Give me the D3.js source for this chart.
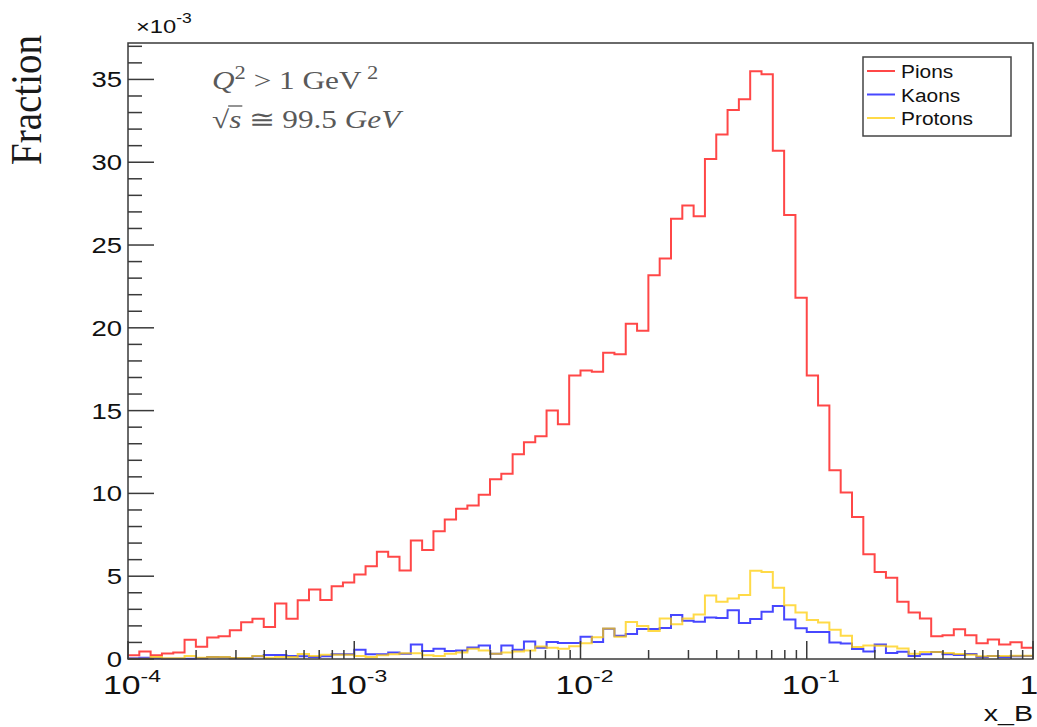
<!DOCTYPE html>
<html>
<head>
    <script src="https://cdn.jsdelivr.net/npm/d3@7"></script>
    <style>
        html, body {
            padding: 0;
            margin: 0;
            background: white;
        }
    </style>
</head>
<body>
<script>
    var width = 1037, height = 727;
    var plot = {left: 128, right: 1033, top: 43, bottom: 659};

    // x_B binning: 80 log-spaced bins between 1e-4 and 1
    var nBins = 80;
    var xMin = 1e-4, xMax = 1;
    var binEdges = d3.range(nBins + 1).map(function (i) {
        return xMin * Math.pow(xMax / xMin, i / nBins);
    });

    // bin contents, in units of 1e-3
    var pions = [0.23, 0.45, 0.23, 0.33, 0.39, 1.16, 0.74, 1.30, 1.38, 1.74,
        2.22, 2.43, 1.94, 3.35, 2.43, 3.55, 4.20, 3.57, 4.40, 4.62,
        5.10, 5.60, 6.47, 6.17, 5.34, 7.16, 6.59, 7.72, 8.42, 9.07,
        9.27, 9.92, 10.86, 11.18, 12.37, 13.09, 13.45, 15.00, 14.18, 17.12,
        17.42, 17.34, 18.49, 18.41, 20.24, 19.82, 23.18, 24.19, 26.58, 27.39,
        26.74, 30.20, 31.67, 33.16, 33.80, 35.50, 35.31, 30.70, 26.82, 21.81,
        17.12, 15.31, 11.40, 10.05, 8.58, 6.33, 5.26, 4.90, 3.45, 2.81,
        2.45, 1.38, 1.44, 1.80, 1.44, 0.95, 1.18, 0.88, 1.01, 0.68];
    var kaons = [0.05, 0.08, 0.05, 0.02, 0.02, 0.02, 0.05, 0.12, 0.10, 0.05,
        0.05, 0.16, 0.24, 0.24, 0.18, 0.16, 0.12, 0.16, 0.28, 0.28,
        0.56, 0.28, 0.28, 0.40, 0.32, 0.88, 0.48, 0.62, 0.48, 0.52,
        0.70, 0.82, 0.32, 0.82, 0.56, 1.05, 0.68, 1.03, 0.97, 0.97,
        1.35, 1.03, 1.83, 1.41, 1.51, 1.81, 1.81, 1.87, 2.66, 2.31,
        2.25, 2.51, 2.47, 2.94, 2.17, 2.41, 2.86, 3.20, 2.38, 1.85,
        1.63, 1.63, 1.00, 0.93, 0.60, 0.46, 0.87, 0.36, 0.44, 0.18,
        0.28, 0.42, 0.28, 0.24, 0.30, 0.12, 0.18, 0.12, 0.16, 0.18];
    var protons = [0.02, 0.02, 0.12, 0.05, 0.05, 0.18, 0.08, 0.12, 0.12, 0.06,
        0.06, 0.18, 0.08, 0.12, 0.12, 0.30, 0.18, 0.26, 0.26, 0.26,
        0.18, 0.12, 0.22, 0.28, 0.34, 0.34, 0.22, 0.18, 0.32, 0.40,
        0.62, 0.52, 0.32, 0.40, 0.46, 0.52, 0.76, 0.68, 0.62, 0.77,
        0.95, 1.32, 1.84, 1.34, 2.23, 2.00, 1.69, 2.45, 2.10, 2.44,
        2.69, 3.83, 3.45, 3.65, 3.87, 5.33, 5.25, 4.31, 3.24, 2.81,
        2.35, 2.20, 1.77, 1.41, 0.72, 0.82, 0.80, 0.76, 0.64, 0.32,
        0.42, 0.42, 0.36, 0.30, 0.26, 0.16, 0.18, 0.18, 0.20, 0.20];

    var seriesNames = ["Pions", "Kaons", "Protons"];
    var seriesColors = ["#ff0000", "#0000ff", "#ffcc00"];
    var seriesValues = [pions, kaons, protons];

    var yMax = 37.2;
    var yMajorTicks = [0, 5, 10, 15, 20, 25, 30, 35];
    var xMajorTicks = [1e-4, 1e-3, 1e-2, 1e-1, 1];
    var xTickExponents = ["-4", "-3", "-2", "-1", ""];

    var svg = d3.select('body').append('svg')
        .attr('width', width)
        .attr('height', height)
        .style('background-color', 'white');

    var x = d3.scaleLog().domain([xMin, xMax]).range([plot.left, plot.right]);
    var y = d3.scaleLinear().domain([0, yMax]).range([plot.bottom, plot.top]);

    var axisColor = "#3a3a3a";
    var sansFont = "'Liberation Sans', Arial, sans-serif";
    var serifFont = "'Liberation Serif', 'DejaVu Serif', serif";

    // text that is stretched horizontally like the original canvas
    function stretchedText(parent, px, py, sx, anchor) {
        return parent.append("text")
            .attr("transform", "translate(" + px + "," + py + ") scale(" + sx + ",1)")
            .attr("text-anchor", anchor);
    }

    // histograms, drawn as step outlines
    var line = d3.line()
        .x(function (d) { return x(d[0]); })
        .y(function (d) { return y(d[1]); });

    seriesValues.forEach(function (vals, k) {
        var pts = [];
        vals.forEach(function (v, i) {
            pts.push([binEdges[i], v]);
            pts.push([binEdges[i + 1], v]);
        });
        svg.append("path")
            .attr("d", line(pts))
            .attr("fill", "none")
            .attr("stroke", seriesColors[k])
            .attr("stroke-opacity", 0.72)
            .attr("stroke-width", 2);
    });

    // frame
    svg.append("rect")
        .attr("x", plot.left)
        .attr("y", plot.top)
        .attr("width", plot.right - plot.left)
        .attr("height", plot.bottom - plot.top)
        .attr("fill", "none")
        .attr("stroke", axisColor)
        .attr("stroke-width", 1.5);

    // y axis ticks (major every 5, minor every 1)
    var yMinor = d3.range(0, yMax, 1);
    svg.selectAll(".ytick").data(yMinor).enter().append("line")
        .attr("x1", plot.left)
        .attr("x2", function (d) { return plot.left + (d % 5 === 0 ? 26 : 14); })
        .attr("y1", function (d) { return y(d); })
        .attr("y2", function (d) { return y(d); })
        .attr("stroke", axisColor)
        .attr("stroke-width", 1.5);

    yMajorTicks.forEach(function (t) {
        stretchedText(svg, 122, y(t) + 8, 1.25, "end")
            .attr("font-family", sansFont)
            .attr("font-size", 22)
            .attr("fill", "#111")
            .text(t);
    });

    // x axis ticks (log: decades + 2..9)
    var xMinor = [];
    xMajorTicks.slice(0, 4).forEach(function (dec) {
        for (var m = 2; m <= 9; m++) xMinor.push(dec * m);
    });
    svg.selectAll(".xminor").data(xMinor).enter().append("line")
        .attr("x1", function (d) { return x(d); })
        .attr("x2", function (d) { return x(d); })
        .attr("y1", plot.bottom)
        .attr("y2", plot.bottom - 9)
        .attr("stroke", axisColor)
        .attr("stroke-width", 1.5);
    svg.selectAll(".xmajor").data(xMajorTicks).enter().append("line")
        .attr("x1", function (d) { return x(d); })
        .attr("x2", function (d) { return x(d); })
        .attr("y1", plot.bottom)
        .attr("y2", plot.bottom - 18)
        .attr("stroke", axisColor)
        .attr("stroke-width", 1.5);

    xMajorTicks.forEach(function (t, i) {
        // the last label sits at the canvas edge, keep it inside
        var lx = xTickExponents[i] ? x(t) + 4 : Math.min(x(t), width - 8);
        var lab = stretchedText(svg, lx, 694, 1.35, "middle")
            .attr("font-family", sansFont)
            .attr("font-size", 25)
            .attr("fill", "#111");
        if (xTickExponents[i]) {
            lab.append("tspan").text("10");
            lab.append("tspan")
                .attr("dy", -12)
                .attr("font-size", 17)
                .text(xTickExponents[i]);
        } else {
            lab.text("1");
        }
    });

    // exponent factor of y axis
    var fac = stretchedText(svg, 136, 33, 1.25, "start")
        .attr("font-family", sansFont)
        .attr("font-size", 19)
        .attr("fill", "#111");
    fac.append("tspan").text("\u00d710");
    fac.append("tspan").attr("dy", -10).attr("font-size", 14).text("-3");

    // axis titles
    svg.append("text")
        .attr("transform", "translate(41,100) rotate(-90) scale(1,1.12)")
        .attr("text-anchor", "middle")
        .attr("font-family", serifFont)
        .attr("font-size", 39)
        .attr("fill", "#1a1a1a")
        .text("Fraction");

    stretchedText(svg, 1033, 721, 1.3, "end")
        .attr("font-family", sansFont)
        .attr("font-size", 22)
        .attr("fill", "#111")
        .text("x_B");

    // kinematics annotation
    var noteScale = 1.25;
    var note = svg.append("g").attr("fill", "#595959").attr("font-family", serifFont);
    var l1 = stretchedText(note, 212, 89, noteScale, "start").attr("font-size", 25);
    l1.append("tspan").attr("font-style", "italic").text("Q");
    l1.append("tspan").attr("dy", -10).attr("font-size", 18).text("2");
    l1.append("tspan").attr("dy", 10).text(" > 1 GeV");
    l1.append("tspan").attr("dy", -10).attr("font-size", 18).text(" 2");

    var l2 = stretchedText(note, 212, 128, noteScale, "start").attr("font-size", 25);
    l2.append("tspan").text("\u221a");
    l2.append("tspan").attr("font-style", "italic").text("s");
    l2.append("tspan").text(" \u2245 99.5 ");
    l2.append("tspan").attr("font-style", "italic").text("GeV");

    // bar of the square root over "s"
    var sStart = l2.node().getStartPositionOfChar(1).x;
    var sEnd = l2.node().getEndPositionOfChar(1).x;
    note.append("line")
        .attr("x1", 212 + sStart * noteScale - 1)
        .attr("x2", 212 + sEnd * noteScale + 1)
        .attr("y1", 106).attr("y2", 106)
        .attr("stroke", "#595959").attr("stroke-width", 1.3);

    // legend
    var leg = svg.append("g");
    leg.append("rect")
        .attr("x", 863).attr("y", 57)
        .attr("width", 148).attr("height", 79)
        .attr("fill", "white")
        .attr("stroke", "#444")
        .attr("stroke-width", 1.5);
    seriesNames.forEach(function (name, k) {
        var cy = 71 + k * 23.5;
        leg.append("line")
            .attr("x1", 867).attr("x2", 895)
            .attr("y1", cy).attr("y2", cy)
            .attr("stroke", seriesColors[k])
            .attr("stroke-opacity", 0.72)
            .attr("stroke-width", 2);
        stretchedText(leg, 901, cy + 7, 1.1, "start")
            .attr("font-family", sansFont)
            .attr("font-size", 19)
            .attr("fill", "#111")
            .text(name);
    });
</script>
</body>
</html>
